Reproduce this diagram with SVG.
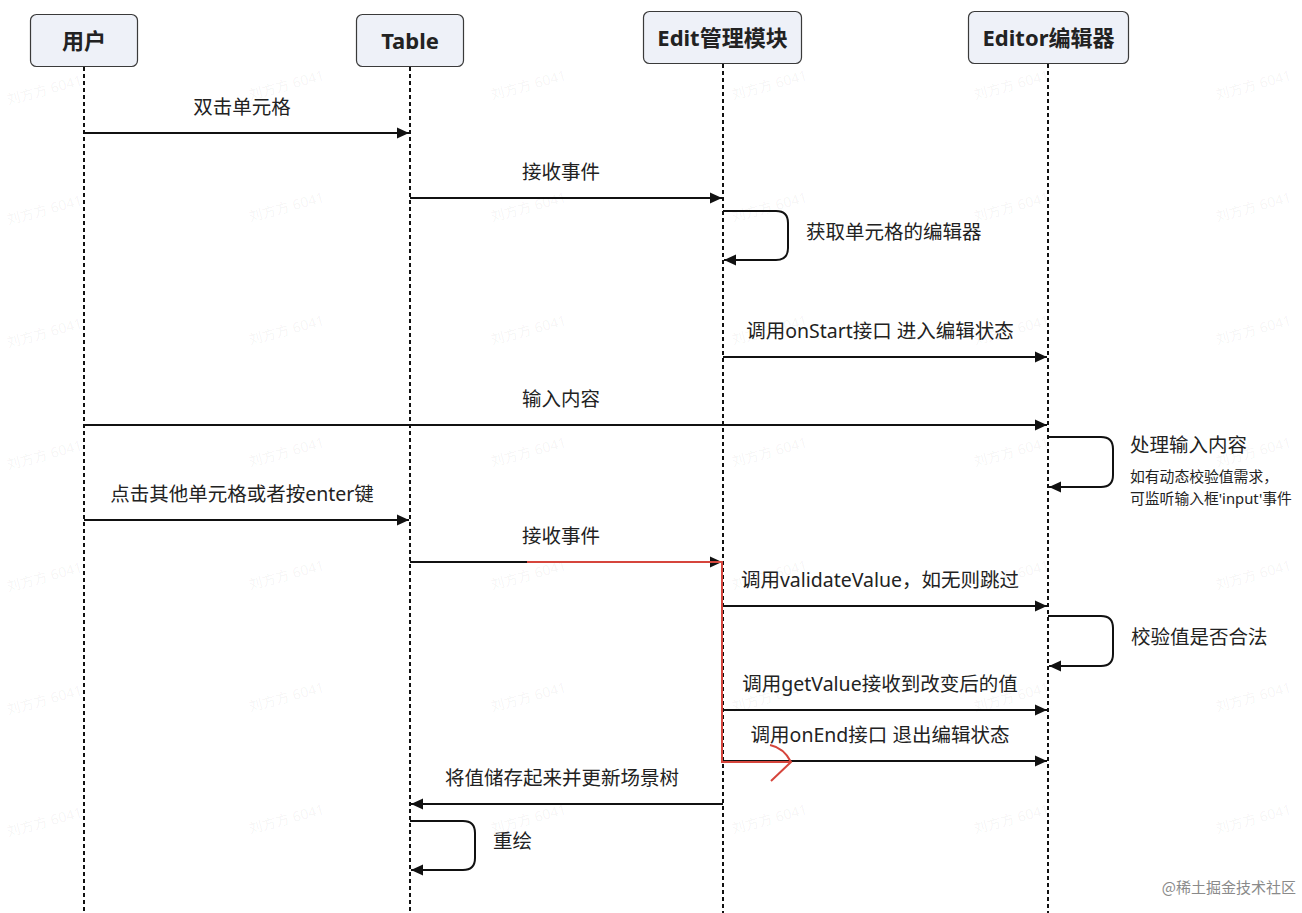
<svg xmlns="http://www.w3.org/2000/svg" width="1302" height="913" viewBox="0 0 1302 913">
<style>
.hd{fill:#eef1f8;stroke:#3a3a3a;stroke-width:1.2}
.ht{font-family:"Noto Sans","Noto Sans CJK SC",sans-serif;font-size:22px;font-weight:bold;fill:#222;text-anchor:middle}
.life{stroke:#111;stroke-width:2;stroke-dasharray:4 3;fill:none}
.msg{stroke:#111;stroke-width:2;fill:none}
.lb{font-family:"Noto Sans","Noto Sans CJK SC",sans-serif;font-size:19.5px;fill:#222}
.mid{text-anchor:middle}
.sm{font-family:"Noto Sans","Noto Sans CJK SC",sans-serif;font-size:14.8px;fill:#222}
.wm{font-family:"Noto Sans","Noto Sans CJK SC",sans-serif;font-size:14px;fill:#000;fill-opacity:0.05}
.red{stroke:#d6453c;stroke-width:2;fill:none}
</style>
<defs>
<marker id="ah" viewBox="0 0 12 12" refX="12" refY="6" markerWidth="12" markerHeight="12" markerUnits="userSpaceOnUse" orient="auto">
<path d="M0,0.5 L12,6 L0,11.5 z" fill="#111"/>
</marker>
</defs>
<rect width="1302" height="913" fill="#ffffff"/>
<g id="watermark">
<text class="wm" x="8" y="105" transform="rotate(-15 8 105)">刘方方 6041</text>
<text class="wm" x="250" y="100" transform="rotate(-15 250 100)">刘方方 6041</text>
<text class="wm" x="492" y="100" transform="rotate(-15 492 100)">刘方方 6041</text>
<text class="wm" x="733" y="100" transform="rotate(-15 733 100)">刘方方 6041</text>
<text class="wm" x="975" y="100" transform="rotate(-15 975 100)">刘方方 6041</text>
<text class="wm" x="1217" y="100" transform="rotate(-15 1217 100)">刘方方 6041</text>
<text class="wm" x="8" y="225" transform="rotate(-15 8 225)">刘方方 6041</text>
<text class="wm" x="250" y="222" transform="rotate(-15 250 222)">刘方方 6041</text>
<text class="wm" x="492" y="222" transform="rotate(-15 492 222)">刘方方 6041</text>
<text class="wm" x="733" y="222" transform="rotate(-15 733 222)">刘方方 6041</text>
<text class="wm" x="975" y="222" transform="rotate(-15 975 222)">刘方方 6041</text>
<text class="wm" x="1217" y="222" transform="rotate(-15 1217 222)">刘方方 6041</text>
<text class="wm" x="8" y="348" transform="rotate(-15 8 348)">刘方方 6041</text>
<text class="wm" x="250" y="345" transform="rotate(-15 250 345)">刘方方 6041</text>
<text class="wm" x="492" y="345" transform="rotate(-15 492 345)">刘方方 6041</text>
<text class="wm" x="733" y="345" transform="rotate(-15 733 345)">刘方方 6041</text>
<text class="wm" x="975" y="345" transform="rotate(-15 975 345)">刘方方 6041</text>
<text class="wm" x="1217" y="345" transform="rotate(-15 1217 345)">刘方方 6041</text>
<text class="wm" x="8" y="470" transform="rotate(-15 8 470)">刘方方 6041</text>
<text class="wm" x="250" y="467" transform="rotate(-15 250 467)">刘方方 6041</text>
<text class="wm" x="492" y="467" transform="rotate(-15 492 467)">刘方方 6041</text>
<text class="wm" x="733" y="467" transform="rotate(-15 733 467)">刘方方 6041</text>
<text class="wm" x="975" y="467" transform="rotate(-15 975 467)">刘方方 6041</text>
<text class="wm" x="1217" y="467" transform="rotate(-15 1217 467)">刘方方 6041</text>
<text class="wm" x="8" y="592" transform="rotate(-15 8 592)">刘方方 6041</text>
<text class="wm" x="250" y="590" transform="rotate(-15 250 590)">刘方方 6041</text>
<text class="wm" x="492" y="590" transform="rotate(-15 492 590)">刘方方 6041</text>
<text class="wm" x="733" y="590" transform="rotate(-15 733 590)">刘方方 6041</text>
<text class="wm" x="975" y="590" transform="rotate(-15 975 590)">刘方方 6041</text>
<text class="wm" x="1217" y="590" transform="rotate(-15 1217 590)">刘方方 6041</text>
<text class="wm" x="8" y="715" transform="rotate(-15 8 715)">刘方方 6041</text>
<text class="wm" x="250" y="712" transform="rotate(-15 250 712)">刘方方 6041</text>
<text class="wm" x="492" y="712" transform="rotate(-15 492 712)">刘方方 6041</text>
<text class="wm" x="733" y="712" transform="rotate(-15 733 712)">刘方方 6041</text>
<text class="wm" x="975" y="712" transform="rotate(-15 975 712)">刘方方 6041</text>
<text class="wm" x="1217" y="712" transform="rotate(-15 1217 712)">刘方方 6041</text>
<text class="wm" x="8" y="837" transform="rotate(-15 8 837)">刘方方 6041</text>
<text class="wm" x="250" y="834" transform="rotate(-15 250 834)">刘方方 6041</text>
<text class="wm" x="492" y="834" transform="rotate(-15 492 834)">刘方方 6041</text>
<text class="wm" x="733" y="834" transform="rotate(-15 733 834)">刘方方 6041</text>
<text class="wm" x="975" y="834" transform="rotate(-15 975 834)">刘方方 6041</text>
<text class="wm" x="1217" y="834" transform="rotate(-15 1217 834)">刘方方 6041</text>
</g>
<g id="lifelines">
<line class="life" x1="84" y1="67" x2="84" y2="913"/>
<line class="life" x1="410" y1="67" x2="410" y2="913"/>
<line class="life" x1="723" y1="64" x2="723" y2="913"/>
<line class="life" x1="1048" y1="64" x2="1048" y2="913"/>
</g>
<g id="node-user">
<rect class="hd" x="30.5" y="14.5" width="107" height="52" rx="6"/>
<text class="ht" x="84" y="49">用户</text>
</g>
<g id="node-table">
<rect class="hd" x="356.5" y="14.5" width="107" height="52" rx="6"/>
<text class="ht" x="410" y="49">Table</text>
</g>
<g id="node-edit">
<rect class="hd" x="643.5" y="11.5" width="158" height="52" rx="6"/>
<text class="ht" x="722.5" y="46">Edit管理模块</text>
</g>
<g id="node-editor">
<rect class="hd" x="968.5" y="11.5" width="160" height="52" rx="6"/>
<text class="ht" x="1048.5" y="46">Editor编辑器</text>
</g>
<g id="connectors">
<line class="msg" x1="84" y1="133" x2="409" y2="133" marker-end="url(#ah)"/>
<line class="msg" x1="410" y1="198" x2="722" y2="198" marker-end="url(#ah)"/>
<path class="msg" d="M723,211 H776 Q788,211 788,223 V248 Q788,260 776,260 H724" marker-end="url(#ah)"/>
<line class="msg" x1="723" y1="357" x2="1047" y2="357" marker-end="url(#ah)"/>
<line class="msg" x1="84" y1="425" x2="1047" y2="425" marker-end="url(#ah)"/>
<path class="msg" d="M1048,437 H1101 Q1113,437 1113,449 V475 Q1113,487 1101,487 H1049" marker-end="url(#ah)"/>
<line class="msg" x1="84" y1="520" x2="409" y2="520" marker-end="url(#ah)"/>
<line class="msg" x1="410" y1="562" x2="722" y2="562" marker-end="url(#ah)"/>
<line class="msg" x1="723" y1="606" x2="1047" y2="606" marker-end="url(#ah)"/>
<path class="msg" d="M1048,616 H1101 Q1113,616 1113,628 V654 Q1113,666 1101,666 H1049" marker-end="url(#ah)"/>
<line class="msg" x1="723" y1="710" x2="1047" y2="710" marker-end="url(#ah)"/>
<line class="msg" x1="723" y1="761" x2="1047" y2="761" marker-end="url(#ah)"/>
<line class="msg" x1="723" y1="804" x2="411" y2="804" marker-end="url(#ah)"/>
<path class="msg" d="M410,821 H463 Q475,821 475,833 V858 Q475,870 463,870 H411" marker-end="url(#ah)"/>
</g>
<g id="labels">
<text class="lb mid" x="242" y="114">双击单元格</text>
<text class="lb mid" x="561" y="179">接收事件</text>
<text class="lb" x="806" y="239">获取单元格的编辑器</text>
<text class="lb mid" x="880" y="338">调用onStart接口 进入编辑状态</text>
<text class="lb mid" x="561" y="406">输入内容</text>
<text class="lb" x="1130" y="452">处理输入内容</text>
<text class="sm" x="1130" y="482">如有动态校验值需求，</text>
<text class="sm" x="1130" y="504">可监听输入框'input'事件</text>
<text class="lb mid" x="242" y="501">点击其他单元格或者按enter键</text>
<text class="lb mid" x="561" y="543">接收事件</text>
<text class="lb mid" x="880" y="587">调用validateValue，如无则跳过</text>
<text class="lb" x="1131" y="644">校验值是否合法</text>
<text class="lb mid" x="880" y="691">调用getValue接收到改变后的值</text>
<text class="lb mid" x="880" y="742">调用onEnd接口 退出编辑状态</text>
<text class="lb mid" x="562" y="785">将值储存起来并更新场景树</text>
<text class="lb" x="493" y="848">重绘</text>
</g>
<g id="annotation">
<path class="red" d="M527,562 H722 V762 H791"/>
<path class="red" d="M770,745 Q784,748 791,762 L771,781"/>
</g>
<text x="1296" y="893" style="font-family:'Noto Sans CJK SC','Noto Sans',sans-serif;font-size:15px;fill:#8a8a8a;text-anchor:end">@稀土掘金技术社区</text>
</svg>
